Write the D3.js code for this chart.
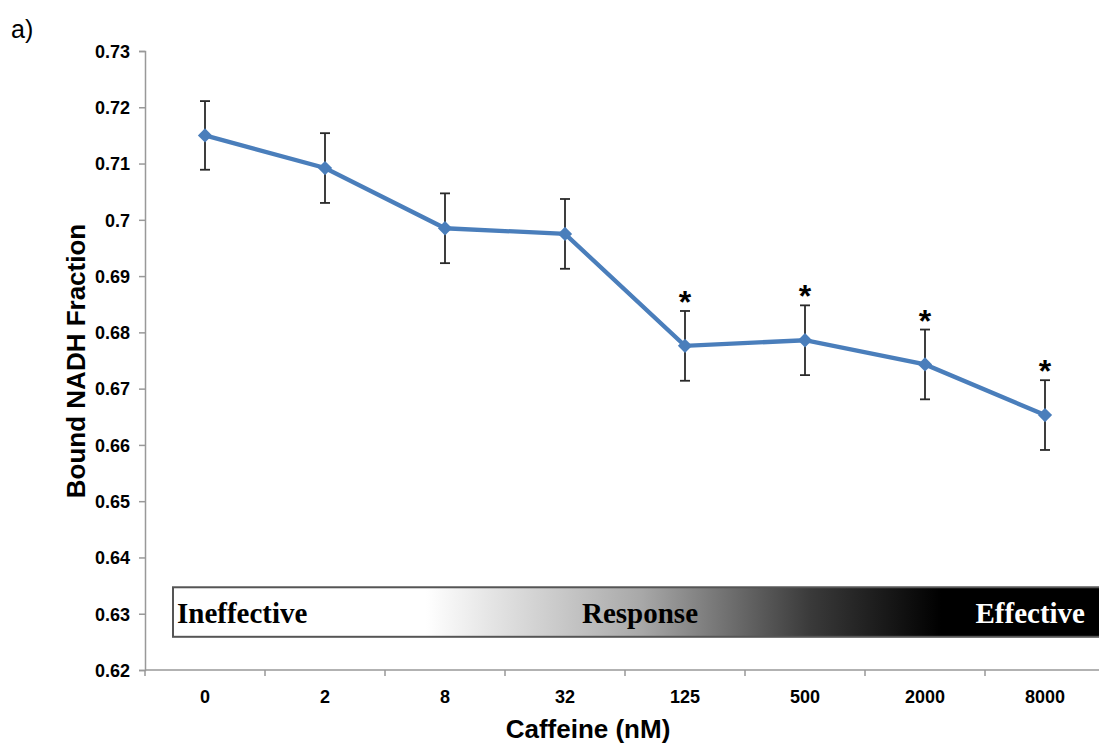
<!DOCTYPE html>
<html>
<head>
<meta charset="utf-8">
<script src="https://cdn.jsdelivr.net/npm/d3@7"></script>
<style>
  body { margin: 0; background: #fff; }
  svg { display: block; font-family: "Liberation Sans", Arial, sans-serif; }
</style>
</head>
<body>
<div id="chart"></div>
<script>
// data
var doses = ['0', '2', '8', '32', '125', '500', '2000', '8000'];
var fraction = [0.7150, 0.7092, 0.6985, 0.6975, 0.6776, 0.6786, 0.6743, 0.6653];
var errors = [0.0061, 0.0062, 0.0062, 0.0062, 0.0062, 0.0062, 0.0062, 0.0062];
var significant = [false, false, false, false, true, true, true, true];
var yTicks = [0.62, 0.63, 0.64, 0.65, 0.66, 0.67, 0.68, 0.69, 0.7, 0.71, 0.72, 0.73];
var bandLabels = ['Ineffective', 'Response', 'Effective'];

var W = 1099, H = 743;
var margin = {top: 51, left: 145, bottom: 73, right: -6};

var svg = d3.select('#chart').append('svg')
    .attr('width', W)
    .attr('height', H);

var x = d3.scaleBand()
    .domain(doses)
    .range([margin.left, W - margin.right])
    .padding(0);

var y = d3.scaleLinear()
    .domain([0.62, 0.73])
    .range([H - margin.bottom, margin.top]);

// gradient band
var defs = svg.append('defs');
var grad = defs.append('linearGradient')
    .attr('id', 'band')
    .attr('x1', '0%').attr('x2', '100%')
    .attr('y1', '0%').attr('y2', '0%');
grad.append('stop').attr('offset', '27%').attr('stop-color', '#fff');
grad.append('stop').attr('offset', '50%').attr('stop-color', '#a8a8a8');
grad.append('stop').attr('offset', '68%').attr('stop-color', '#3a3a3a');
grad.append('stop').attr('offset', '82%').attr('stop-color', '#000');
grad.append('stop').attr('offset', '100%').attr('stop-color', '#000');

var bandX0 = 173, bandX1 = 1110;
var bandTop = y(0.6347), bandBot = y(0.6259);
svg.append('rect')
    .attr('x', bandX0)
    .attr('y', bandTop)
    .attr('width', bandX1 - bandX0)
    .attr('height', bandBot - bandTop)
    .style('fill', 'url(#band)')
    .style('stroke', '#555')
    .style('stroke-width', 2);

var bandBase = bandTop + 36;
var serif = '"Liberation Serif", "Times New Roman", serif';
svg.append('text')
    .attr('x', 177).attr('y', bandBase)
    .style('font-family', serif)
    .style('font-weight', 'bold').style('font-size', '29px')
    .style('fill', '#000')
    .text(bandLabels[0]);
svg.append('text')
    .attr('x', 640).attr('y', bandBase)
    .attr('text-anchor', 'middle')
    .style('font-family', serif)
    .style('font-weight', 'bold').style('font-size', '29px')
    .style('fill', '#000')
    .text(bandLabels[1]);
svg.append('text')
    .attr('x', 1085).attr('y', bandBase)
    .attr('text-anchor', 'end')
    .style('font-family', serif)
    .style('font-weight', 'bold').style('font-size', '29px')
    .style('fill', '#fff')
    .text(bandLabels[2]);

// y axis
var yAxis = svg.append('g')
    .attr('transform', 'translate(' + margin.left + ',0)')
    .call(d3.axisLeft(y).tickValues(yTicks).tickSize(6).tickPadding(9)
        .tickFormat(function(d) { return d3.format('.2~f')(d); }));
yAxis.select('.domain').style('stroke', '#999').style('stroke-width', 1.5);
yAxis.selectAll('.tick line').style('stroke', '#999').style('stroke-width', 1.5);
yAxis.selectAll('.tick text')
    .style('font-size', '18px').style('font-weight', 'bold').style('fill', '#000')
    .attr('dy', '0.35em');

// x axis: ticks between categories
var xAxisG = svg.append('g')
    .attr('transform', 'translate(0,' + y(0.62) + ')');
xAxisG.append('line')
    .attr('x1', margin.left).attr('x2', W)
    .style('stroke', '#999').style('stroke-width', 1.5);
xAxisG.selectAll('.xt')
    .data(doses)
    .enter().append('line')
    .attr('x1', function(d) { return x(d); })
    .attr('x2', function(d) { return x(d); })
    .attr('y1', 0).attr('y2', 6)
    .style('stroke', '#999').style('stroke-width', 1.5);
xAxisG.selectAll('.xl')
    .data(doses)
    .enter().append('text')
    .attr('x', function(d) { return x(d) + x.bandwidth() / 2; })
    .attr('y', 33)
    .attr('text-anchor', 'middle')
    .style('font-size', '18px').style('font-weight', 'bold')
    .text(function(d) { return d; });

// axis titles
svg.append('text')
    .attr('x', 588).attr('y', 738)
    .attr('text-anchor', 'middle')
    .style('font-size', '26px').style('font-weight', 'bold')
    .text('Caffeine (nM)');
svg.append('text')
    .attr('transform', 'translate(85,' + 361 + ') rotate(-90)')
    .attr('text-anchor', 'middle')
    .style('font-size', '26px').style('font-weight', 'bold')
    .text('Bound NADH Fraction');

svg.append('text')
    .attr('x', 11).attr('y', 38)
    .style('font-size', '25px')
    .text('a)');

var cx = function(i) { return x(doses[i]) + x.bandwidth() / 2; };

// error bars
var eb = svg.append('g');
doses.forEach(function(d, i) {
    var top = y(fraction[i] + errors[i]), bot = y(fraction[i] - errors[i]);
    eb.append('line').attr('x1', cx(i)).attr('x2', cx(i)).attr('y1', top).attr('y2', bot)
        .style('stroke', '#2a2a2a').style('stroke-width', 1.8);
    eb.append('line').attr('x1', cx(i) - 5).attr('x2', cx(i) + 5).attr('y1', top).attr('y2', top)
        .style('stroke', '#2a2a2a').style('stroke-width', 1.8);
    eb.append('line').attr('x1', cx(i) - 5).attr('x2', cx(i) + 5).attr('y1', bot).attr('y2', bot)
        .style('stroke', '#2a2a2a').style('stroke-width', 1.8);
    if (significant[i]) {
        svg.append('text')
            .attr('x', cx(i)).attr('y', top + 2)
            .attr('text-anchor', 'middle')
            .style('font-size', '32px').style('font-weight', 'bold')
            .text('*');
    }
});

// line
var line = d3.line()
    .x(function(d, i) { return cx(i); })
    .y(function(d) { return y(d); });
svg.append('path')
    .datum(fraction)
    .attr('d', line)
    .style('fill', 'none')
    .style('stroke', '#4a7ebb')
    .style('stroke-width', 4.3);

svg.selectAll('.pt')
    .data(fraction)
    .enter().append('path')
    .attr('d', d3.symbol().type(d3.symbolDiamond2).size(130))
    .attr('transform', function(d, i) { return 'translate(' + cx(i) + ',' + y(d) + ')'; })
    .style('fill', '#4a7ebb');
</script>
</body>
</html>
